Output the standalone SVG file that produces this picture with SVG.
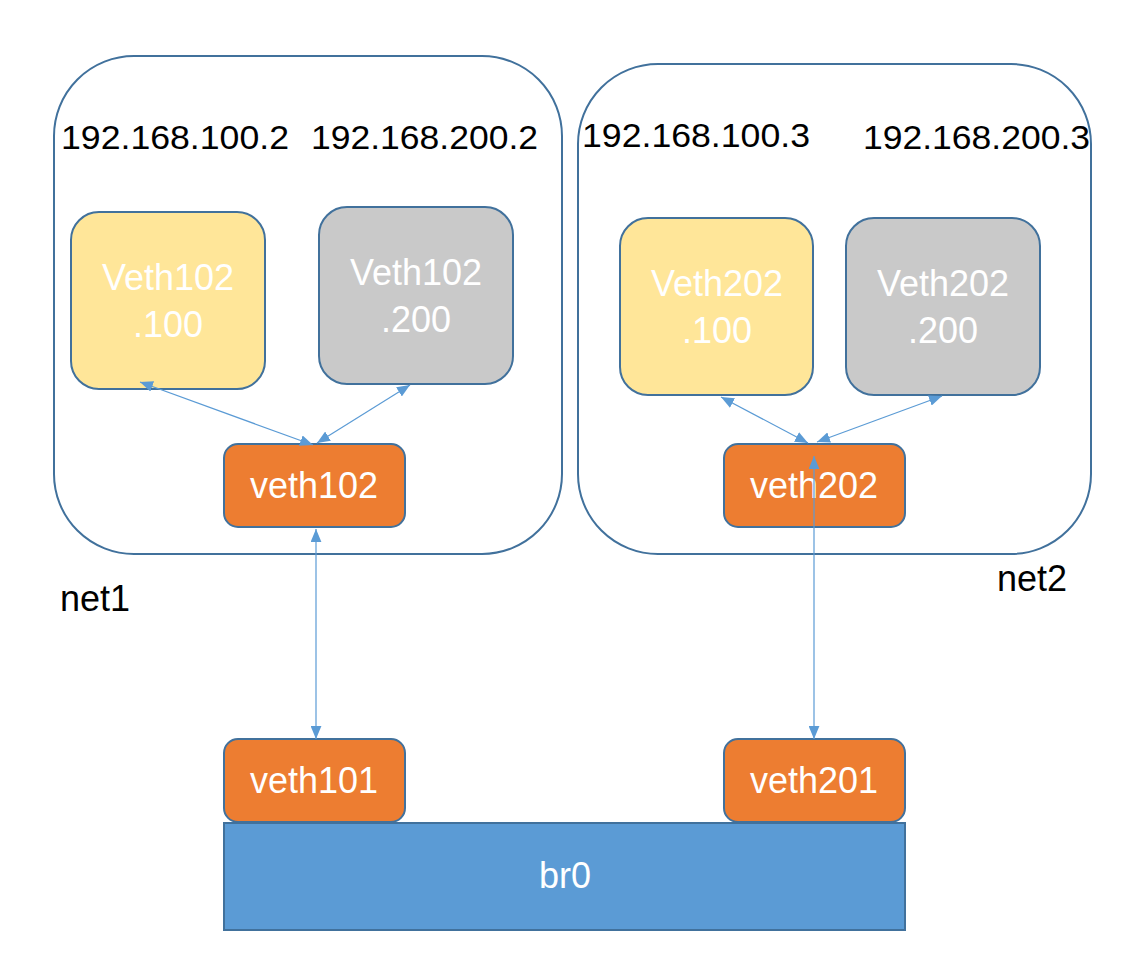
<svg xmlns="http://www.w3.org/2000/svg" width="1130" height="974" viewBox="0 0 1130 974">
<style>
text{font-family:"Liberation Sans",Arial,sans-serif;font-size:36px}
.lbl{fill:#000}
.ip{font-size:34px}
.w{fill:#fff;text-anchor:middle}
.net{fill:#fff;stroke:#41719C;stroke-width:2}
.y{fill:#FFE699;stroke:#41719C;stroke-width:2}
.g{fill:#C9C9C9;stroke:#41719C;stroke-width:2}
.o{fill:#ED7D31;stroke:#41719C;stroke-width:2}
.b{fill:#5B9BD5;stroke:#41719C;stroke-width:2}
.c{stroke:#5B9BD5;stroke-width:1.2;fill:none;marker-start:url(#ah);marker-end:url(#ah)}
</style>
<defs>
<marker id="ah" viewBox="0 0 12 10" refX="12" refY="5" markerWidth="13" markerHeight="11" markerUnits="userSpaceOnUse" orient="auto-start-reverse">
<path d="M0,0 L12,5 L0,10 Z" fill="#5B9BD5"/>
</marker>
</defs>
<rect width="1130" height="974" fill="#fff"/>
<g id="net1">
<rect class="net" x="54" y="56" width="508" height="498" rx="80"/>
<text class="lbl ip" x="61" y="149" textLength="228" lengthAdjust="spacingAndGlyphs">192.168.100.2</text>
<text class="lbl ip" x="311" y="149" textLength="227" lengthAdjust="spacingAndGlyphs">192.168.200.2</text>
<text class="lbl" x="60" y="611">net1</text>
</g>
<g id="net2">
<rect class="net" x="578" y="64" width="513" height="490" rx="80"/>
<text class="lbl ip" x="582" y="147" textLength="228" lengthAdjust="spacingAndGlyphs">192.168.100.3</text>
<text class="lbl ip" x="863" y="149" textLength="227" lengthAdjust="spacingAndGlyphs">192.168.200.3</text>
<text class="lbl" x="997" y="591">net2</text>
</g>
<g id="veth102-100">
<rect class="y" x="71" y="212" width="194" height="177" rx="28"/>
<text class="w" x="168" y="290">Veth102</text>
<text class="w" x="168" y="337">.100</text>
</g>
<g id="veth102-200">
<rect class="g" x="319" y="207" width="194" height="177" rx="28"/>
<text class="w" x="416" y="285">Veth102</text>
<text class="w" x="416" y="332">.200</text>
</g>
<g id="veth202-100">
<rect class="y" x="620" y="218" width="193" height="177" rx="28"/>
<text class="w" x="717" y="296">Veth202</text>
<text class="w" x="717" y="343">.100</text>
</g>
<g id="veth202-200">
<rect class="g" x="846" y="218" width="194" height="177" rx="28"/>
<text class="w" x="943" y="296">Veth202</text>
<text class="w" x="943" y="343">.200</text>
</g>
<g id="veth102">
<rect class="o" x="224" y="444" width="181" height="83" rx="14"/>
<text class="w" x="314" y="498">veth102</text>
</g>
<g id="veth202">
<rect class="o" x="724" y="444" width="181" height="83" rx="14"/>
<text class="w" x="814" y="498">veth202</text>
</g>
<g id="br0">
<rect class="b" x="224" y="823" width="681" height="107"/>
<text class="w" x="565" y="888">br0</text>
</g>
<g id="veth101">
<rect class="o" x="224" y="739" width="181" height="83" rx="14"/>
<text class="w" x="314" y="793">veth101</text>
</g>
<g id="veth201">
<rect class="o" x="724" y="739" width="181" height="83" rx="14"/>
<text class="w" x="814" y="793">veth201</text>
</g>
<g id="connectors">
<line class="c" x1="140" y1="382" x2="313" y2="445"/>
<line class="c" x1="410" y1="385" x2="317" y2="443"/>
<line class="c" x1="316" y1="529" x2="316" y2="739"/>
<line class="c" x1="721" y1="397" x2="808" y2="443"/>
<line class="c" x1="942" y1="396" x2="817" y2="442"/>
<line class="c" x1="814" y1="456" x2="814" y2="739"/>
</g>
</svg>
